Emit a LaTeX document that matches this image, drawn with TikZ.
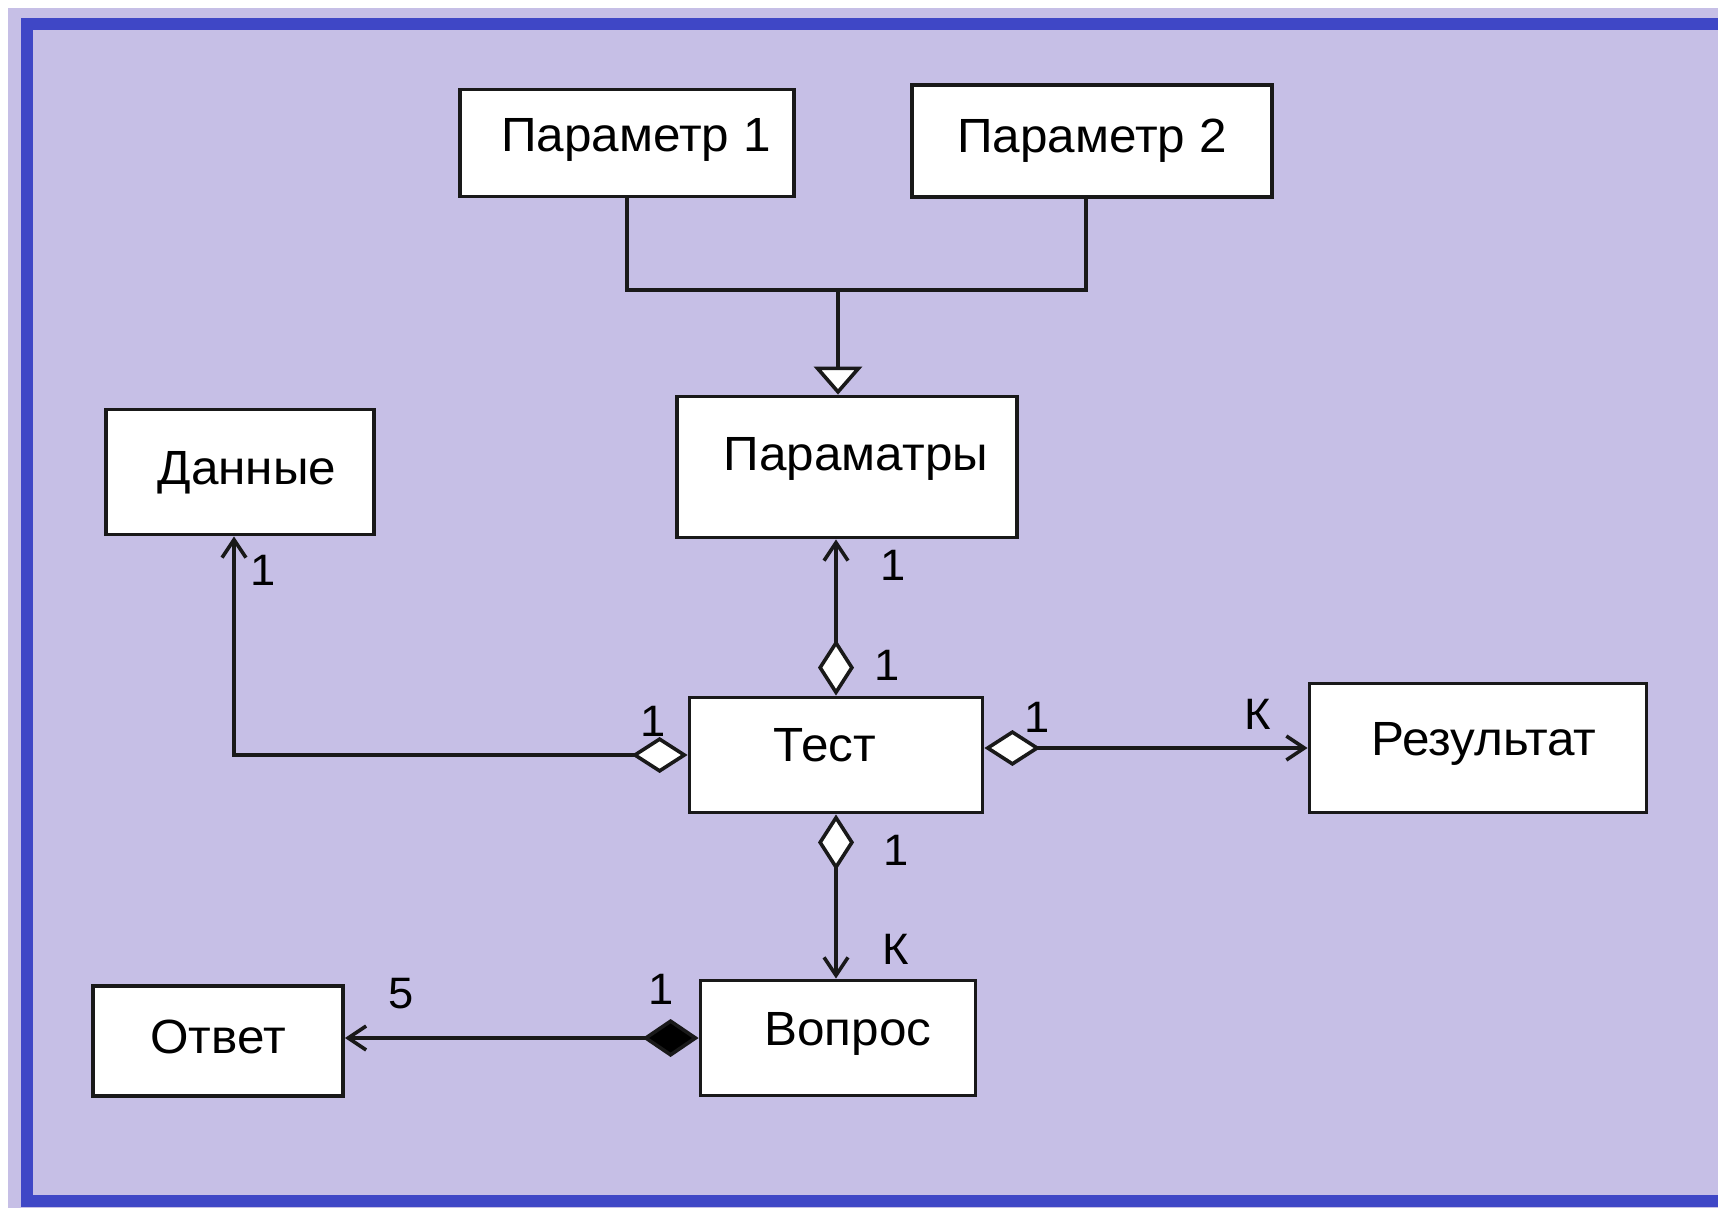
\documentclass[tikz,border=0pt]{standalone}
\usepackage{fontspec}
\setmainfont{Liberation Sans}[FakeStretch=1.03]
\usetikzlibrary{arrows.meta}
\definecolor{lavender}{HTML}{C6BFE6}
\definecolor{frameblue}{HTML}{3F47C6}
\tikzset{
  box/.style={draw=black!90, fill=white, line width=1.9pt, inner sep=0pt,
              text height=17pt, text depth=5pt,
              font=\fontsize{24}{28}\selectfont},
  raise/.style={text depth=#1},
  mult/.style={inner sep=0pt, font=\fontsize{22}{26}\selectfont},
  link/.style={draw=black!90, line width=1.8pt},
  barb/.tip={Straight Barb[length=9pt,width=12pt]},
  agg/.tip={Diamond[fill=white,length=28pt,width=18pt]},
  comp/.tip={Diamond[fill=black,length=28pt,width=19pt]},
  gen/.tip={Triangle[fill=white,length=14pt,width=24pt]},
}
\begin{document}
\begin{tikzpicture}[x=0.5pt,y=-0.5pt]
  % page and frame
  \fill[white] (0,0) rectangle (1718,1208);
  \useasboundingbox (0,0) rectangle (1718,1208);
  \fill[lavender] (8,8) rectangle (1718,1208);
  \draw[frameblue, line width=6pt] (1740,24) -- (27,24) -- (27,1201) -- (1740,1201);

  % classes
  \node[box, raise=8pt, minimum width=167pt, minimum height=53.5pt] (p1) at (627,143) {\hspace{9pt}Параметр 1};
  \node[box, minimum width=180pt, minimum height=56pt] (p2) at (1092,141) {Параметр 2};
  \node[box, raise=14pt, minimum width=170pt, minimum height=70.5pt] (pp) at (847,467) {\hspace{9pt}Параматры};
  \node[box, minimum width=134pt, minimum height=62.5pt] (data) at (240,472) {\hspace{7pt}Данные};
  \node[box, raise=11pt, minimum width=146.5pt, minimum height=57.5pt] (test) at (836,755) {Тест\rule{11pt}{0pt}};
  \node[box, raise=10pt, minimum width=168.5pt, minimum height=64.5pt] (res) at (1478,748) {\hspace{6pt}Результат};
  \node[box, raise=10pt, minimum width=137.5pt, minimum height=57.5pt] (q) at (838,1038) {\hspace{10pt}Вопрос};
  \node[box, minimum width=125pt, minimum height=55pt] (ans) at (218,1041) {Ответ};

  % generalisation
  \coordinate (jm) at (838,290);
  \draw[link] (p1.south) |- (jm);
  \draw[link] ([xshift=-3pt]p2.south) |- (jm);
  \draw[link, -{gen}] (jm) -- (jm |- pp.north);

  % associations
  \draw[link, {agg}-{barb}] (test.north) -- (test.north |- pp.south);
  \draw[link, {agg}-{barb}] (test.west) -| ([xshift=-3pt]data.south);
  \draw[link, {agg}-{barb}] (test.east |- res.west) -- (res.west);
  \draw[link, {agg}-{barb}] (test.south) -- (test.south |- q.north);
  \draw[link, {comp}-{barb}] (q.west) -- (q.west -| ans.east);

  % multiplicities
  \node[mult] (m1)  at (263,570)  {1};
  \node[mult] (m2)  at (893,565)  {1};
  \node[mult] (m3)  at (887,665)  {1};
  \node[mult] (m4)  at (653,721)  {1};
  \node[mult] (m5)  at (1037,717) {1};
  \node[mult] (m6)  at (1258,714) {К};
  \node[mult] (m7)  at (896,850)  {1};
  \node[mult] (m8)  at (896,949)  {К};
  \node[mult] (m9)  at (401,994)  {5};
  \node[mult] (m10) at (661,989)  {1};
\end{tikzpicture}
\end{document}
